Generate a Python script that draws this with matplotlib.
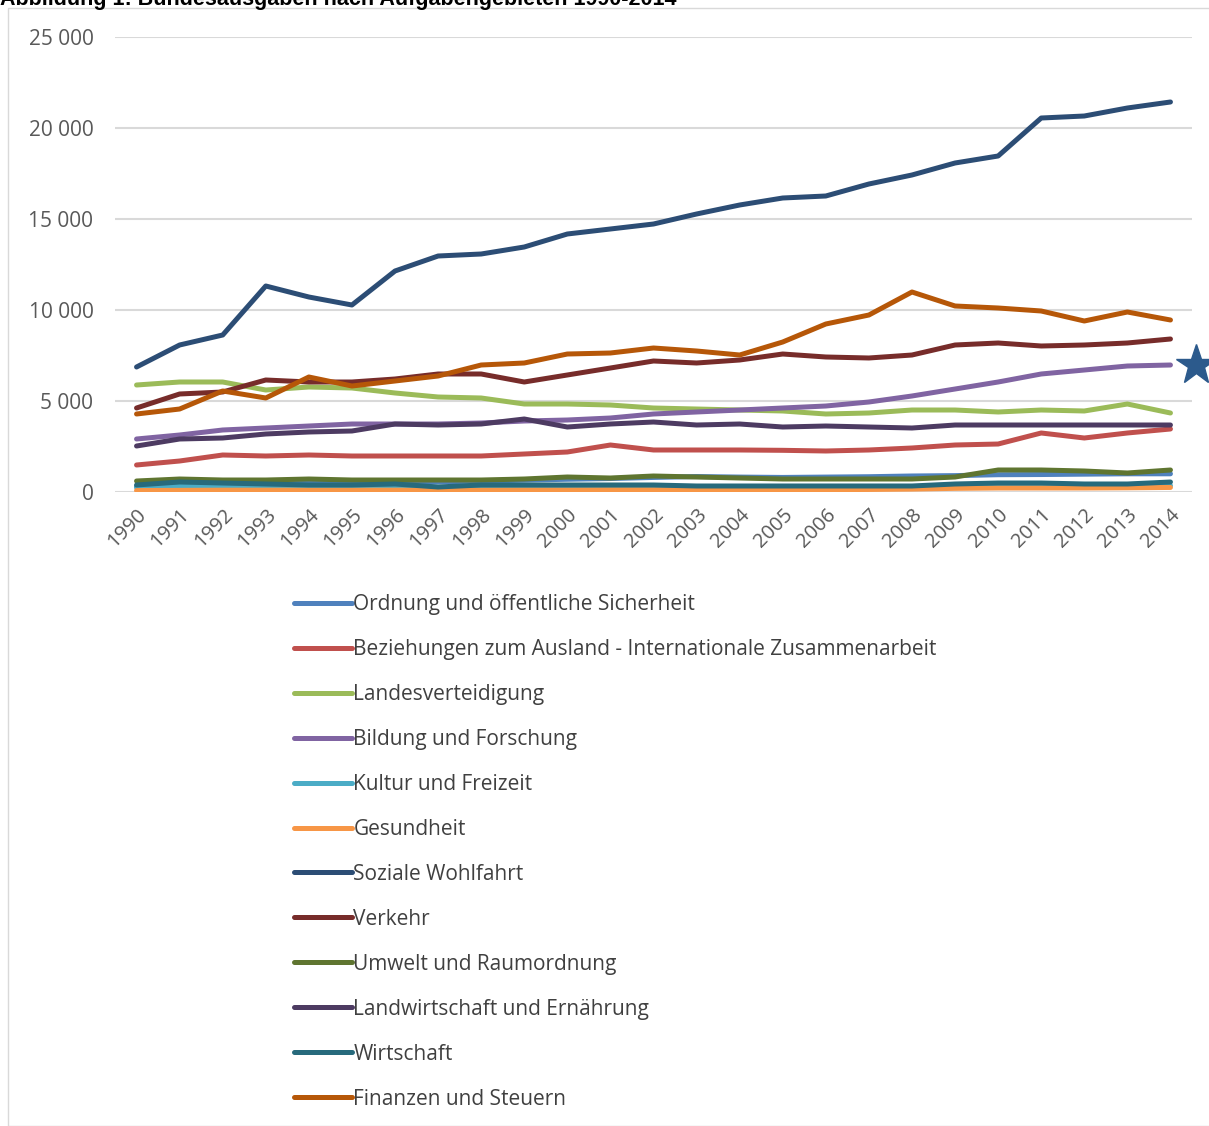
import numpy as np
import matplotlib
matplotlib.use("Agg")
import matplotlib.pyplot as plt
from matplotlib.patches import Rectangle

plt.rcParams['font.family'] = ['Open Sans', 'DejaVu Sans']

years = list(range(1990, 2015))

ordnung = [300, 420, 450, 470, 480, 500, 520, 560, 600, 650, 700, 740, 800, 850, 820, 800, 820, 840, 880, 900, 950, 960, 980, 1000, 1000]
ausland = [1484, 1703, 2033, 1978, 2033, 1978, 1978, 1978, 1978, 2088, 2198, 2582, 2308, 2308, 2308, 2290, 2253, 2308, 2418, 2582, 2637, 3242, 2967, 3242, 3462]
verteidigung = [5879, 6044, 6044, 5604, 5769, 5714, 5440, 5220, 5165, 4835, 4835, 4780, 4615, 4560, 4505, 4451, 4286, 4341, 4505, 4505, 4396, 4505, 4451, 4835, 4341]
bildung = [2912, 3132, 3407, 3516, 3626, 3736, 3736, 3736, 3791, 3901, 3956, 4066, 4286, 4396, 4505, 4615, 4725, 4945, 5275, 5659, 6044, 6484, 6703, 6923, 6978]
kultur = [250, 330, 330, 300, 280, 270, 280, 260, 270, 270, 280, 290, 300, 290, 280, 270, 270, 280, 290, 300, 320, 330, 330, 340, 350]
gesundheit = [80, 90, 100, 100, 100, 100, 100, 100, 100, 110, 110, 120, 120, 120, 120, 130, 130, 140, 160, 200, 220, 220, 220, 230, 250]
soziales = [6868, 8077, 8626, 11319, 10714, 10275, 12143, 12967, 13077, 13462, 14176, 14451, 14725, 15275, 15769, 16154, 16264, 16923, 17418, 18077, 18462, 20549, 20659, 21099, 21429]
verkehr = [4615, 5385, 5495, 6154, 6044, 6044, 6209, 6484, 6484, 6044, 6429, 6813, 7198, 7088, 7253, 7582, 7418, 7363, 7527, 8077, 8187, 8022, 8077, 8187, 8407]
umwelt = [604, 714, 659, 659, 714, 659, 659, 659, 659, 714, 824, 769, 879, 824, 769, 714, 714, 714, 714, 824, 1209, 1209, 1154, 1044, 1209]
landwirtschaft = [2527, 2912, 2967, 3187, 3297, 3352, 3736, 3681, 3736, 4011, 3571, 3736, 3846, 3681, 3736, 3571, 3626, 3571, 3516, 3681, 3681, 3681, 3681, 3681, 3681]
wirtschaft = [385, 549, 494, 440, 385, 385, 440, 275, 385, 385, 385, 385, 385, 330, 330, 330, 330, 330, 330, 440, 494, 494, 440, 440, 549]
finanzen = [4286, 4560, 5550, 5165, 6319, 5824, 6099, 6374, 6978, 7088, 7582, 7637, 7912, 7747, 7527, 8242, 9231, 9725, 10989, 10220, 10110, 9945, 9396, 9890, 9451]

labels = ["Ordnung und öffentliche Sicherheit",
          "Beziehungen zum Ausland - Internationale Zusammenarbeit",
          "Landesverteidigung",
          "Bildung und Forschung",
          "Kultur und Freizeit",
          "Gesundheit",
          "Soziale Wohlfahrt",
          "Verkehr",
          "Umwelt und Raumordnung",
          "Landwirtschaft und Ernährung",
          "Wirtschaft",
          "Finanzen und Steuern"]
series = [ordnung, ausland, verteidigung, bildung, kultur, gesundheit,
          soziales, verkehr, umwelt, landwirtschaft, wirtschaft, finanzen]
colors = ["#4F81BD", "#C0504D", "#9BBB59", "#8064A2", "#4BACC6", "#F79646",
          "#2C4D75", "#772C2A", "#5F7530", "#4D3B62", "#276A7C", "#B65708"]

# star marker sitting right of the plot
star_x = [2014.6]
star_y = [6980]

fig = plt.figure(figsize=(12.09, 11.26), dpi=100)
ax = fig.add_axes([115/1209, 1 - 492/1126, 1077/1209, 455/1126])

for vals, lab, col in zip(series, labels, colors):
    ax.plot(years, vals, color=col, lw=3.6, label=lab, solid_capstyle='round', solid_joinstyle='round')

ax.plot(star_x, star_y, marker='*', ms=30, color="#2C5A8C", ls='none', clip_on=False)

ax.set_xlim(1989.5, 2014.5)
ax.set_ylim(0, 25000)
ax.set_yticks(range(0, 25001, 5000))
ax.set_yticklabels(["0", "5 000", "10 000", "15 000", "20 000", "25 000"])
ax.set_xticks(years)
ax.set_xticklabels([str(y) for y in years], rotation=45, ha='right', rotation_mode='anchor')
ax.tick_params(axis='y', length=0, labelsize=15, colors='#595959', pad=15.5)
ax.tick_params(axis='x', length=0, labelsize=14.5, colors='#595959', pad=9)
ax.grid(axis='y', color='#D9D9D9', lw=1.5)
ax.set_axisbelow(True)
for s in ax.spines.values():
    s.set_visible(False)

leg = fig.legend(loc='upper left', bbox_to_anchor=(294/1209, 1 - 594/1126), frameon=False,
                 fontsize=15, handlelength=2.8, handletextpad=0.05, labelspacing=1.15,
                 borderaxespad=0, borderpad=0)
for t in leg.get_texts():
    t.set_color('#404040')

fig.patches.append(Rectangle((8/1209, 0), 1, 1 - 8/1126, transform=fig.transFigure,
                             fill=False, edgecolor='#D9D9D9', lw=1))
fig.text(0.0, 1 - 5/1126, "Abbildung 1: Bundesausgaben nach Aufgabengebieten 1990-2014",
         fontsize=15.5, fontweight='bold', family='Liberation Sans', va='baseline', ha='left')

fig.savefig("out.png", dpi=100)
